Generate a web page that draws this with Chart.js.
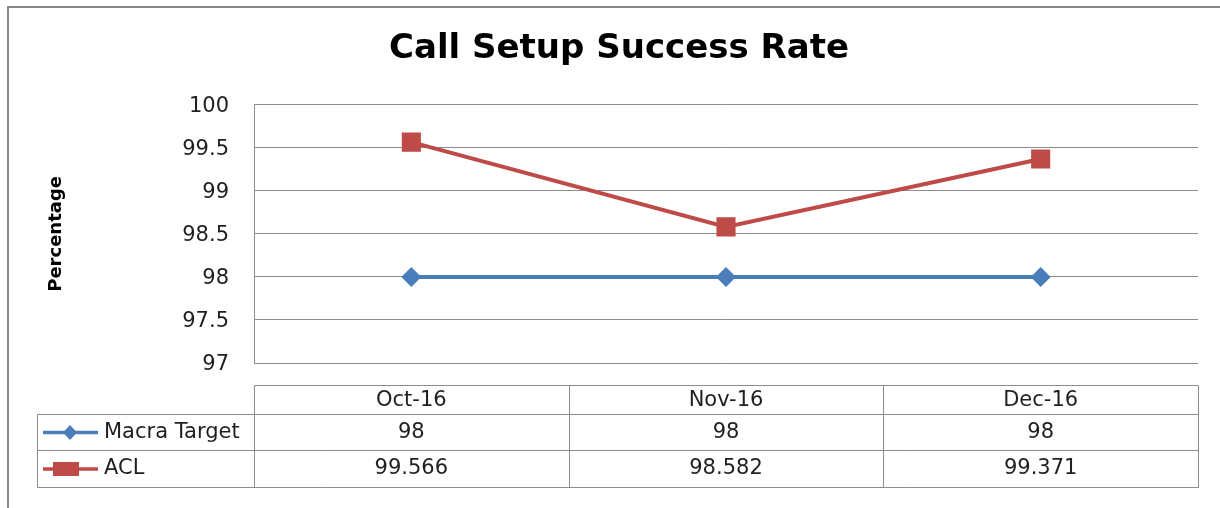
<!DOCTYPE html>
<html>
<head>
<meta charset="utf-8">
<script src="https://cdn.jsdelivr.net/npm/chart.js@4.4.1/dist/chart.umd.min.js"></script>
<style>
  html, body { margin: 0; padding: 0; background: #ffffff; }
  canvas { display: block; }
</style>
</head>
<body>
<canvas id="c" width="1220" height="508"></canvas>
<script>
const categories = ['Oct-16', 'Nov-16', 'Dec-16'];
const macraTarget = [98, 98, 98];
const aclValues = [99.566, 98.582, 99.371];
const yTickValues = [97, 97.5, 98, 98.5, 99, 99.5, 100];
const seriesNames = ['Macra Target', 'ACL'];
const chartTitle = 'Call Setup Success Rate';
const yAxisTitle = 'Percentage';

const FONT = "'DejaVu Sans', sans-serif";
const BLUE = '#4A7EBB';
const RED = '#BE4B48';
const GRID = '#8c8c8c';
const TEXT = '#1f1f1f';

const frameAndTable = {
  id: 'frameAndTable',
  beforeDraw(chart) {
    const ctx = chart.ctx;
    ctx.save();
    ctx.fillStyle = '#ffffff';
    ctx.fillRect(0, 0, chart.width, chart.height);
    ctx.strokeStyle = '#878787';
    ctx.lineWidth = 2;
    ctx.strokeRect(8, 7, chart.width + 20, chart.height + 20);
    ctx.restore();
  },
  afterDraw(chart) {
    const ctx = chart.ctx;
    const area = chart.chartArea;
    const xs = chart.scales.x;
    const n = categories.length;
    const colW = (area.right - area.left) / n;
    const top = area.bottom + 22;
    const hdrBottom = top + 29;
    const r1Bottom = hdrBottom + 36;
    const r2Bottom = r1Bottom + 37;
    const legLeft = 37;
    const px = v => Math.round(v) + 0.5;

    ctx.save();
    ctx.strokeStyle = GRID;
    ctx.lineWidth = 1;
    ctx.beginPath();
    ctx.moveTo(px(area.left), px(top)); ctx.lineTo(px(area.right), px(top));
    [hdrBottom, r1Bottom, r2Bottom].forEach(y => {
      ctx.moveTo(px(legLeft), px(y)); ctx.lineTo(px(area.right), px(y));
    });
    ctx.moveTo(px(legLeft), px(hdrBottom)); ctx.lineTo(px(legLeft), px(r2Bottom));
    for (let k = 0; k <= n; k++) {
      const x = area.left + k * colW;
      ctx.moveTo(px(x), px(top)); ctx.lineTo(px(x), px(r2Bottom));
    }
    ctx.stroke();

    ctx.fillStyle = TEXT;
    ctx.font = '21px ' + FONT;
    ctx.textAlign = 'center';
    ctx.textBaseline = 'middle';
    const yH = (top + hdrBottom) / 2 + 1.5;
    const y1 = (hdrBottom + r1Bottom) / 2 + 0.5;
    const y2 = (r1Bottom + r2Bottom) / 2 + 0.5;
    categories.forEach((c, i) => {
      const cx = xs.getPixelForValue(i);
      ctx.fillText(c, cx, yH);
      ctx.fillText(String(macraTarget[i]), cx, y1);
      ctx.fillText(String(aclValues[i]), cx, y2);
    });

    // legend keys
    ctx.lineWidth = 3.5;
    ctx.strokeStyle = BLUE;
    ctx.beginPath(); ctx.moveTo(43, y1); ctx.lineTo(98, y1); ctx.stroke();
    ctx.fillStyle = BLUE;
    ctx.beginPath();
    ctx.moveTo(70, y1 - 7.5); ctx.lineTo(77, y1); ctx.lineTo(70, y1 + 7.5); ctx.lineTo(63, y1);
    ctx.closePath(); ctx.fill();

    ctx.strokeStyle = RED;
    ctx.beginPath(); ctx.moveTo(43, y2); ctx.lineTo(98, y2); ctx.stroke();
    ctx.fillStyle = RED;
    ctx.fillRect(53, y2 - 7, 26, 14);

    ctx.fillStyle = TEXT;
    ctx.textAlign = 'left';
    ctx.fillText(seriesNames[0], 104, y1);
    ctx.fillText(seriesNames[1], 104, y2);
    ctx.restore();
  }
};

new Chart(document.getElementById('c'), {
  type: 'line',
  data: {
    labels: categories,
    datasets: [
      {
        label: seriesNames[0],
        data: macraTarget,
        borderColor: BLUE,
        backgroundColor: BLUE,
        borderWidth: 4,
        pointStyle: 'rectRot',
        pointRadius: 10,
        pointBorderWidth: 0,
        pointBackgroundColor: BLUE,
        tension: 0
      },
      {
        label: seriesNames[1],
        data: aclValues,
        borderColor: RED,
        backgroundColor: RED,
        borderWidth: 4,
        pointStyle: 'rect',
        pointRadius: 13.5,
        pointBorderWidth: 0,
        pointBackgroundColor: RED,
        tension: 0
      }
    ]
  },
  options: {
    responsive: false,
    animation: false,
    layout: { padding: { left: 40, right: 22, top: 0, bottom: 145 } },
    plugins: {
      legend: { display: false },
      tooltip: { enabled: false },
      title: {
        display: true,
        text: chartTitle,
        color: '#000000',
        font: { family: FONT, size: 34, weight: 'bold' },
        padding: { top: 29, bottom: 35 }
      }
    },
    scales: {
      x: {
        display: false,
        offset: true
      },
      y: {
        min: 97,
        max: 100,
        afterBuildTicks: axis => { axis.ticks = yTickValues.map(v => ({ value: v })); },
        afterFit: scale => { scale.width = 214; },
        grid: { color: GRID, lineWidth: 1, drawTicks: false },
        border: { display: true, color: GRID, width: 1 },
        ticks: {
          color: TEXT,
          padding: 25,
          labelOffset: 2,
          font: { family: FONT, size: 21 },
          callback: v => String(v)
        },
        title: {
          display: true,
          text: yAxisTitle,
          color: '#000000',
          font: { family: FONT, size: 18, weight: 'bold' },
          padding: { top: 6, bottom: 0 }
        }
      }
    }
  },
  plugins: [frameAndTable]
});
</script>
</body>
</html>
